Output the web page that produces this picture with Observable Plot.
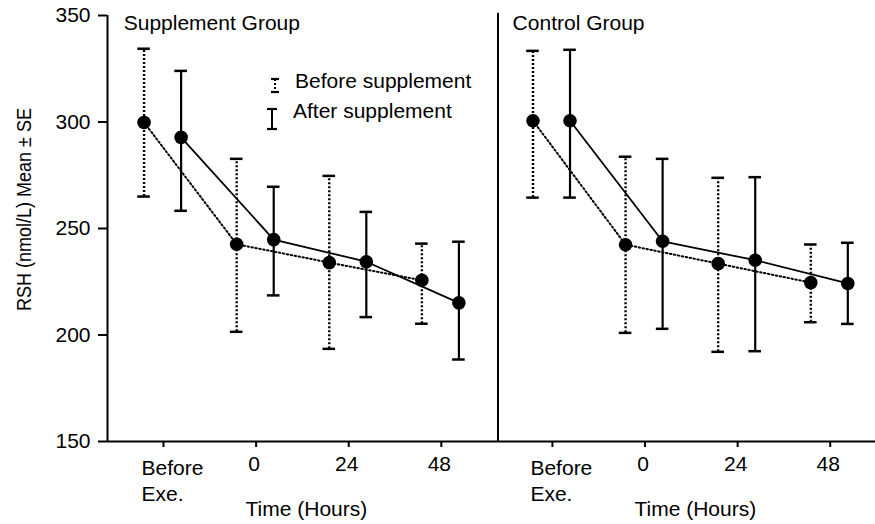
<!DOCTYPE html>
<html>
<head>
<meta charset="utf-8">
<script src="https://cdn.jsdelivr.net/npm/d3@7"></script>
<script src="https://cdn.jsdelivr.net/npm/@observablehq/plot@0.6"></script>
<style>
  html, body { margin: 0; padding: 0; background: #fff; }
  #chart svg { display: block; }
</style>
</head>
<body>
<div id="chart"></div>
<script>
// ---- data ----
const timepoints = ["Before\nExe.", "0", "24", "48"];
const groups = ["Supplement Group", "Control Group"];
const seriesNames = ["Before supplement", "After supplement"];
const yTicks = [150, 200, 250, 300, 350];
const yLabel = "RSH (nmol/L) Mean \u00B1 SE";
const xLabel = "Time (Hours)";

// Supplement group
const suppBeforeMean = [299.8, 242.6, 234.0, 225.7];
const suppBeforeHi   = [334.4, 282.7, 274.7, 242.9];
const suppBeforeLo   = [265.0, 201.5, 193.5, 205.3];
const suppAfterMean  = [292.8, 244.8, 234.4, 215.1];
const suppAfterHi    = [324.0, 269.6, 257.8, 243.8];
const suppAfterLo    = [258.3, 218.6, 208.4, 188.5];
// Control group
const ctrlBeforeMean = [300.6, 242.4, 233.5, 224.6];
const ctrlBeforeHi   = [333.4, 283.7, 273.8, 242.5];
const ctrlBeforeLo   = [264.5, 201.0, 192.1, 206.0];
const ctrlAfterMean  = [300.6, 244.0, 235.1, 224.2];
const ctrlAfterHi    = [333.9, 282.7, 274.1, 243.3];
const ctrlAfterLo    = [264.5, 202.9, 192.4, 205.2];

// ---- layout ----
const GAP = 4.2;                     // distance between panels in x units
const OFFSET = {"Before supplement": -0.21, "After supplement": 0.19};
const CAP = 0.068;                   // half cap width in x units
const X_DOMAIN = [-0.605, 7.689];
const DIVIDER = 3.612;

const table = [
  [groups[0], seriesNames[0], suppBeforeMean, suppBeforeLo, suppBeforeHi],
  [groups[0], seriesNames[1], suppAfterMean, suppAfterLo, suppAfterHi],
  [groups[1], seriesNames[0], ctrlBeforeMean, ctrlBeforeLo, ctrlBeforeHi],
  [groups[1], seriesNames[1], ctrlAfterMean, ctrlAfterLo, ctrlAfterHi]
];
const rows = table.flatMap(([group, series, mean, lo, hi]) =>
  timepoints.map((t, i) => ({
    group, series, time: t,
    x: groups.indexOf(group) * GAP + i + OFFSET[series],
    mean: mean[i], lo: lo[i], hi: hi[i]
  }))
);
const before = rows.filter(d => d.series === seriesNames[0]);
const after = rows.filter(d => d.series === seriesNames[1]);

const tickPos = groups.flatMap((g, gi) => timepoints.map((t, i) => gi * GAP + i));
const tickLabel = new Map(groups.flatMap((g, gi) => timepoints.map((t, i) => [gi * GAP + i, t])));
const firstTicks = tickPos.filter(p => tickLabel.get(p) === timepoints[0]);
const otherTicks = tickPos.filter(p => tickLabel.get(p) !== timepoints[0]);

const BAR_DOT = "2,2";
const LINE_DOT = "1.5,2.5";

// legend drawn inside the left panel
function legend(index, scales, values, dims) {
  const g = d3.create("svg:g");
  const x0 = dims.marginLeft, y0 = dims.marginTop;
  const items = [
    {label: seriesNames[0], cx: x0 + 168, y1: y0 + 64, y2: y0 + 77, cap: 4, dash: BAR_DOT, tx: x0 + 188, ty: y0 + 58},
    {label: seriesNames[1], cx: x0 + 165, y1: y0 + 94, y2: y0 + 114, cap: 5, dash: null, tx: x0 + 186, ty: y0 + 88}
  ];
  for (const it of items) {
    g.append("line").attr("x1", it.cx).attr("x2", it.cx).attr("y1", it.y1).attr("y2", it.y2)
      .attr("stroke", "black").attr("stroke-width", 2).attr("stroke-dasharray", it.dash);
    for (const y of [it.y1, it.y2]) {
      g.append("line").attr("x1", it.cx - it.cap).attr("x2", it.cx + it.cap).attr("y1", y).attr("y2", y)
        .attr("stroke", "black").attr("stroke-width", 2.2);
    }
    g.append("text").attr("x", it.tx).attr("y", it.ty).attr("dy", "0.71em")
      .attr("text-anchor", "start").attr("font-size", 21)
      .attr("fill", "black").text(it.label);
  }
  return g.node();
}

const chart = Plot.plot({
  width: 875,
  height: 524,
  marginLeft: 107,
  marginRight: 0,
  marginTop: 15,
  marginBottom: 83,
  style: {fontFamily: "'Liberation Sans', Arial, Helvetica, sans-serif", fontSize: "21px", color: "black", background: "white", overflow: "visible"},
  x: {domain: X_DOMAIN, axis: null},
  y: {domain: [150, 350], axis: null},
  marks: [
    // axes lines and divider
    Plot.ruleX([X_DOMAIN[0]], {y1: 150, y2: 350, stroke: "black", strokeWidth: 2}),
    Plot.ruleX([DIVIDER], {y1: 150, y2: 351, stroke: "black", strokeWidth: 2}),
    Plot.ruleY([150], {stroke: "black", strokeWidth: 2}),
    Plot.axisY(yTicks, {tickSize: 9, tickPadding: 8, strokeWidth: 2, label: null, fontSize: 21}),
    Plot.axisX(tickPos, {tickSize: 6, tickPadding: 0, strokeWidth: 2, tickFormat: () => "", label: null}),
    Plot.axisX(firstTicks, {tickSize: 0, tickPadding: 15, tickFormat: p => tickLabel.get(p), textAnchor: "start", dx: -22, lineHeight: 1.24, label: null, fontSize: 21}),
    Plot.axisX(otherTicks, {tickSize: 0, tickPadding: 15, tickFormat: p => tickLabel.get(p), dx: -2, label: null, fontSize: 21}),
    // axis titles
    Plot.text(groups, {x: (d, i) => i * GAP + 1.5, frameAnchor: "bottom", dy: 60, dx: 4, lineAnchor: "top", text: () => xLabel, fontSize: 21}),
    Plot.text([yLabel], {frameAnchor: "left", dx: -83, dy: -19, rotate: -90, text: d => d, textAnchor: "middle", lineAnchor: "middle", fontSize: 21, className: "ylabel"}),
    // panel titles
    Plot.text(groups, {x: (d, i) => i * GAP - 0.43, frameAnchor: "top", text: d => d, textAnchor: "start", lineAnchor: "top", fontSize: 21}),
    // connecting lines
    Plot.line(before, {x: "x", y: "mean", z: "group", stroke: "black", strokeWidth: 2, strokeDasharray: LINE_DOT}),
    Plot.line(after, {x: "x", y: "mean", z: "group", stroke: "black", strokeWidth: 1.8}),
    // error bars
    Plot.ruleX(before, {x: "x", y1: "lo", y2: "hi", stroke: "black", strokeWidth: 2.4, strokeDasharray: BAR_DOT}),
    Plot.ruleX(after, {x: "x", y1: "lo", y2: "hi", stroke: "black", strokeWidth: 2.2}),
    Plot.ruleY(rows, {y: "hi", x1: d => d.x - CAP, x2: d => d.x + CAP, stroke: "black", strokeWidth: 2.5}),
    Plot.ruleY(rows, {y: "lo", x1: d => d.x - CAP, x2: d => d.x + CAP, stroke: "black", strokeWidth: 2.5}),
    // means
    Plot.dot(rows, {x: "x", y: "mean", r: 6.8, fill: "black", stroke: null}),
    legend
  ]
});
// the reference's axis title is set in a condensed face: squeeze it to the same length
d3.select(chart).selectAll("g.ylabel text")
  .attr("textLength", 203).attr("lengthAdjust", "spacingAndGlyphs");
document.getElementById("chart").append(chart);
</script>
</body>
</html>
